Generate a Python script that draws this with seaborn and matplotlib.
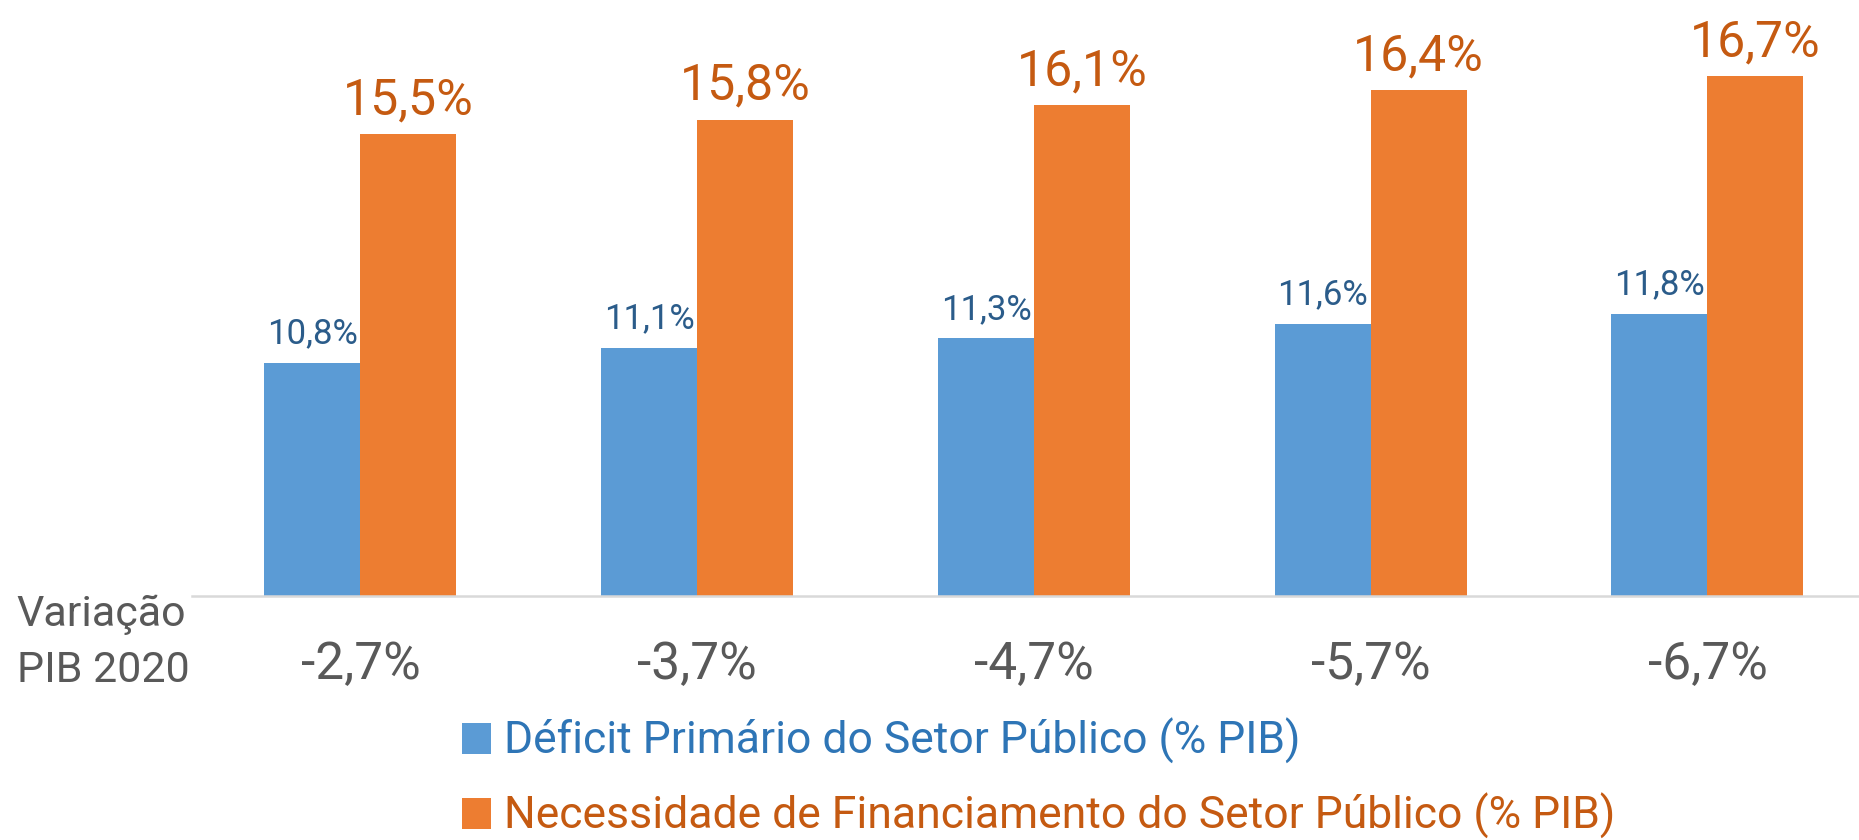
import pandas as pd
import matplotlib.pyplot as plt
import seaborn as sns

# --- data ---
cenarios = ["-2,7%", "-3,7%", "-4,7%", "-5,7%", "-6,7%"]
deficit_primario = [10.8, 11.1, 11.3, 11.6, 11.8]
nfsp = [15.5, 15.8, 16.1, 16.4, 16.7]
serie_1 = "Déficit Primário do Setor Público (% PIB)"
serie_2 = "Necessidade de Financiamento do Setor Público (% PIB)"

df = pd.DataFrame({
    "cenario": cenarios * 2,
    "valor": deficit_primario + nfsp,
    "serie": [serie_1] * len(cenarios) + [serie_2] * len(cenarios),
})

sns.set_style("white")
plt.rcParams["font.family"] = ["Roboto", "DejaVu Sans"]

azul, laranja = "#5B9BD5", "#ED7D31"
azul_txt, laranja_txt = "#2E75B6", "#C55A11"
cinza = "#595959"

fig = plt.figure(figsize=(18.59, 8.40), dpi=100)
ax = fig.add_axes([0.1033, 0.2905, 0.8967, 0.7095])

sns.barplot(data=df, x="cenario", y="valor", hue="serie",
            palette=[azul, laranja], width=0.57, linewidth=0,
            saturation=1, legend=True, ax=ax)

ax.set_ylim(6, 18.26)
ax.set_xlim(-0.5, 4.45)

# --- data labels ---
fmt = lambda v: f"{v:.1f}%".replace(".", ",")
ax.bar_label(ax.containers[0], labels=[fmt(v) for v in deficit_primario],
             padding=9, fontsize=25, color="#2B5C8A")
ax.bar_label(ax.containers[1], labels=[fmt(v) for v in nfsp],
             padding=7, fontsize=36, color=laranja_txt)

# --- axes styling ---
for s in ["top", "right", "left"]:
    ax.spines[s].set_visible(False)
ax.spines["bottom"].set_color("#d9d9d9")
ax.spines["bottom"].set_linewidth(1.8)
ax.set_yticks([])
ax.set_xlabel("")
ax.set_ylabel("")
ax.tick_params(axis="x", length=0, pad=32, labelsize=37, labelcolor=cinza)

fig.text(0.009, 0.235, "Variação\nPIB 2020", fontsize=31, color=cinza,
         ha="left", va="center", linespacing=1.45)

# --- legend ---
handles, labels = ax.get_legend_handles_labels()
ax.get_legend().remove()
leg = fig.legend(handles, labels, loc="upper left", bbox_to_anchor=(0.2485, 0.145),
                 frameon=False, fontsize=32, handlelength=0.65, handleheight=0.70,
                 handletextpad=0.29, labelspacing=0.65, borderpad=0, borderaxespad=0)
for t, c in zip(leg.get_texts(), [azul_txt, laranja_txt]):
    t.set_color(c)

fig.savefig("out.png", dpi=100)
